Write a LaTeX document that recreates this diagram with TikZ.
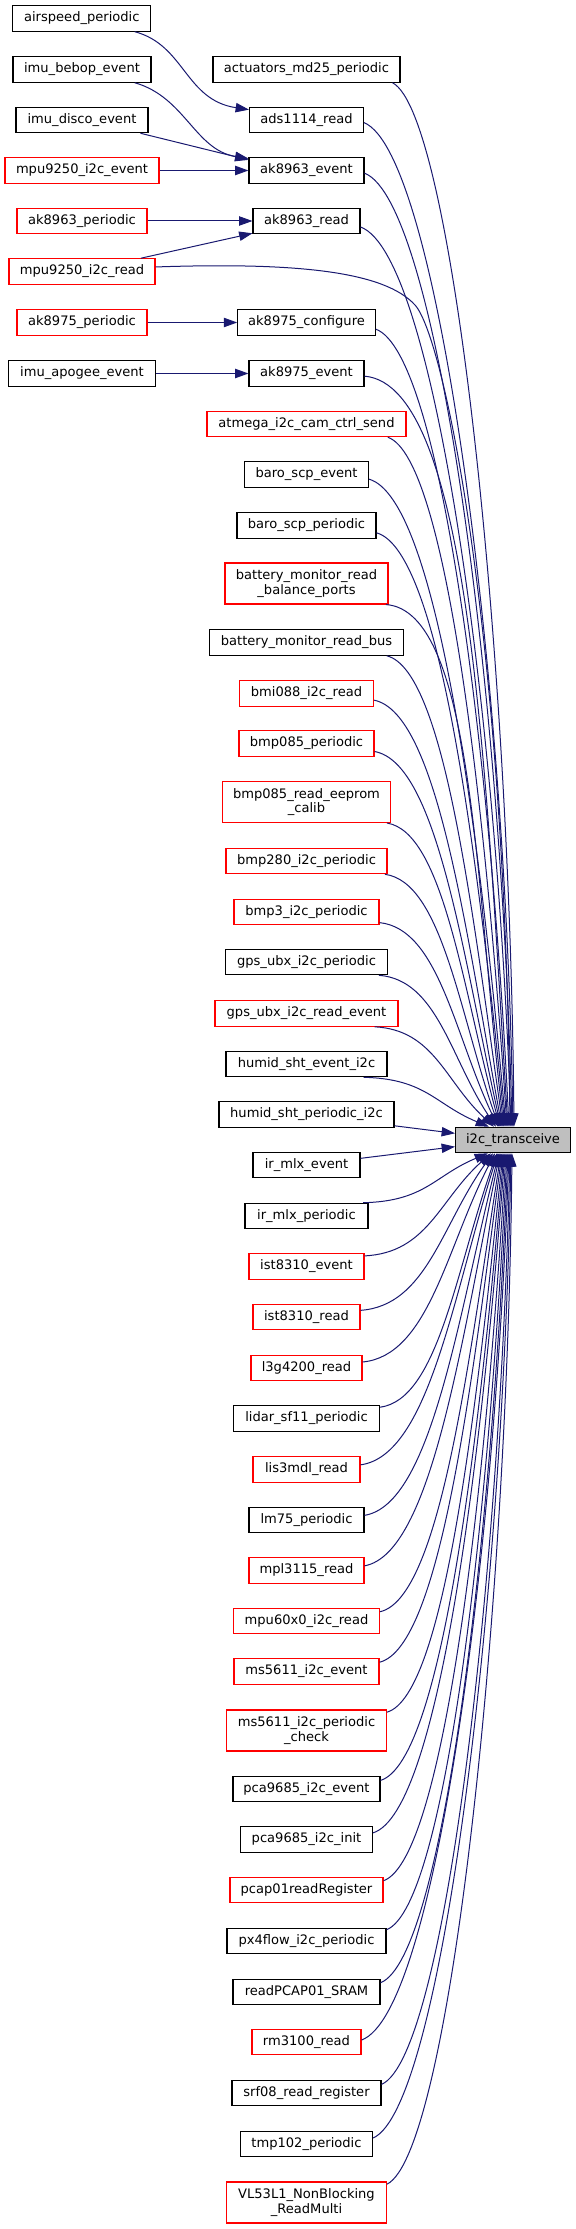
\documentclass[tikz,border=0pt]{standalone}
\usepackage{fontspec}
\setmainfont{DejaVu Sans}
\usetikzlibrary{calc,arrows.meta}
\definecolor{edgeblue}{HTML}{191970}
\definecolor{tgray}{HTML}{BFBFBF}
\tikzset{
 fn/.style={draw=black,line width=0.8pt,fill=white,inner sep=0pt,minimum height=19.125pt,font=\fontsize{9.8}{10.7}\selectfont,align=center,text=black},
 fnr/.style={fn,draw=red},
 tall/.style={minimum height=30.75pt},
 bw/.style={minimum width=#1*0.75pt},
 edge/.style={draw=edgeblue,line width=0.75pt,-{Triangle[length=10pt,width=7pt]}},
}
% edge into the target: C1 = S + (a*dx, b*dy); C2 = E - (e*dx, 0.45*dy), e shrinking with distance
\newcommand\tedgex[4]{\draw[edge] let \p1=(#3), \p2=(#4) in (\p1) .. controls ({\x1+#1*(\x2-\x1)},{\y1+#2*(\y2-\y1)}) and ({\x2-(0.45-0.4*abs(\y2-\y1)/750)*(\x2-\x1)},{\y2-0.45*(\y2-\y1)}) .. (\p2);}
\newcommand\tedge[2]{\tedgex{0.5}{0.03}{#1}{#2}}
\begin{document}
\begin{tikzpicture}[x=0.75pt,y=-0.75pt]
\useasboundingbox (0,0) rectangle (575,2229);
\fill[white] (0,0) rectangle (575,2229);
% left column
\node[fn,bw=138] (nAir) at (81.8,18.4) {airspeed\_periodic};
\node[fn,bw=138] (nBebop) at (82,69.5) {imu\_bebop\_event};
\node[fn,bw=132] (nDisco) at (82,120) {imu\_disco\_event};
\node[fnr,bw=154] (nMpuEv) at (82,170.5) {mpu9250\_i2c\_event};
\node[fnr,bw=130] (nAkSixP) at (82,221) {ak8963\_periodic};
\node[fnr,bw=146] (nMpuRd) at (82,271.5) {mpu9250\_i2c\_read};
\node[fnr,bw=130] (nAkSevP) at (82,322.5) {ak8975\_periodic};
\node[fn,bw=147] (nApogee) at (82,373.5) {imu\_apogee\_event};
% middle column
\node[fn,bw=187] (nMd) at (306.5,69.5) {actuators\_md25\_periodic};
\node[fn,bw=114] (nAds) at (306.5,120) {ads1114\_read};
\node[fn,bw=115] (nAkSixE) at (306.5,170.5) {ak8963\_event};
\node[fn,bw=107] (nAkSixR) at (306.5,221) {ak8963\_read};
\node[fn,bw=137.5] (nAkSevC) at (306.5,322.5) {ak8975\_configure};
\node[fn,bw=115] (nAkSevE) at (306.5,373.5) {ak8975\_event};
\node[fnr,bw=199] (nAtm) at (306.5,424) {atmega\_i2c\_cam\_ctrl\_send};
\node[fn,bw=124] (nBaroE) at (306.5,474.5) {baro\_scp\_event};
\node[fn,bw=139] (nBaroP) at (306.5,525.5) {baro\_scp\_periodic};
\node[fnr,bw=163,tall] (nBatBal) at (306.5,583.5) {battery\_monitor\_read\\\_balance\_ports};
\node[fn,bw=194] (nBatBus) at (306.5,642.5) {battery\_monitor\_read\_bus};
\node[fnr,bw=134] (nBmi) at (306.5,693.5) {bmi088\_i2c\_read};
\node[fnr,bw=135] (nBmpP) at (306.5,743.5) {bmp085\_periodic};
\node[fnr,bw=168,tall] (nBmpE) at (306.5,802) {bmp085\_read\_eeprom\\\_calib};
\node[fnr,bw=161] (nBmpTwo) at (306.5,861) {bmp280\_i2c\_periodic};
\node[fnr,bw=145] (nBmpThree) at (306.5,912) {bmp3\_i2c\_periodic};
\node[fn,bw=162.5] (nGpsP) at (306.5,962) {gps\_ubx\_i2c\_periodic};
\node[fnr,bw=183] (nGpsR) at (306.5,1013.5) {gps\_ubx\_i2c\_read\_event};
\node[fn,bw=161] (nHumE) at (306.5,1064) {humid\_sht\_event\_i2c};
\node[fn,bw=175] (nHumP) at (306.5,1114.5) {humid\_sht\_periodic\_i2c};
\node[fn,bw=107] (nIrE) at (306.5,1165) {ir\_mlx\_event};
\node[fn,bw=123] (nIrP) at (306.5,1216) {ir\_mlx\_periodic};
\node[fnr,bw=115] (nIstE) at (306.5,1266.5) {ist8310\_event};
\node[fnr,bw=107] (nIstR) at (306.5,1317) {ist8310\_read};
\node[fnr,bw=111] (nLtg) at (306.5,1368) {l3g4200\_read};
\node[fn,bw=146] (nLidar) at (306.5,1418.5) {lidar\_sf11\_periodic};
\node[fnr,bw=107] (nLis) at (306.5,1469.5) {lis3mdl\_read};
\node[fn,bw=115] (nLm) at (306.5,1520) {lm75\_periodic};
\node[fnr,bw=115] (nMpl) at (306.5,1570.5) {mpl3115\_read};
\node[fnr,bw=146] (nMpuSix) at (306.5,1621) {mpu60x0\_i2c\_read};
\node[fnr,bw=145] (nMsE) at (306.5,1671.5) {ms5611\_i2c\_event};
\node[fnr,bw=160,tall] (nMsP) at (306.5,1730.5) {ms5611\_i2c\_periodic\\\_check};
\node[fn,bw=147] (nPcaE) at (306.5,1789) {pca9685\_i2c\_event};
\node[fn,bw=132] (nPcaI) at (306.5,1839.5) {pca9685\_i2c\_init};
\node[fnr,bw=153] (nPcap) at (306.5,1890) {pcap01readRegister};
\node[fn,bw=159] (nPx) at (306.5,1941) {px4flow\_i2c\_periodic};
\node[fn,bw=147] (nRpcap) at (306.5,1992) {readPCAP01\_SRAM};
\node[fnr,bw=109] (nRm) at (306.5,2042) {rm3100\_read};
\node[fn,bw=149] (nSrf) at (306.5,2093) {srf08\_read\_register};
\node[fn,bw=132] (nTmp) at (306.5,2144) {tmp102\_periodic};
\node[fnr,bw=160,tall] (nVl) at (306.5,2202.5) {VL53L1\_NonBlocking\\\_ReadMulti};
% target
\node[fn,bw=115,fill=tgray] (nT) at (513,1140) {i2c\_transceive};
% left column edges
\draw[edge] ([xshift=-12.5pt]nAir.south east) .. controls (185,45) and (185,100) .. ([yshift=-2.2pt]nAds.north west);
\draw[edge] ([xshift=-12.5pt]nBebop.south east) .. controls (185,97) and (195,150) .. ([yshift=-1pt]nAkSixE.north west);
\draw[edge] ([xshift=-6pt]nDisco.south east) -- ([yshift=-2pt]nAkSixE.north west);
\draw[edge] (nMpuEv) -- (nAkSixE);
\draw[edge] (nAkSixP) -- (nAkSixR);
\draw[edge] ([xshift=-11pt]nMpuRd.north east) -- ([yshift=0.75pt]nAkSixR.south west);
\draw[edge] (nAkSevP) -- (nAkSevC);
\draw[edge] (nApogee) -- (nAkSevE);
% upper edges into i2c_transceive
\tedge{[xshift=-6pt]nMd.south east}{$(nT.north west)+(59,0)$}
\tedge{[yshift=-2pt]nAds.east}{$(nT.north west)+(58,0)$}
\tedge{[yshift=-2pt]nAkSixE.east}{$(nT.north west)+(57,0)$}
\tedge{[yshift=-4.5pt]nAkSixR.east}{$(nT.north west)+(56,0)$}
\draw[edge] ([yshift=3.4pt]nMpuRd.east) .. controls (300,262) and (385,272) .. (415,305) .. controls (445,338) and (505,640) .. ($(nT.north west)+(55,0)$);
\tedge{[yshift=-5pt]nAkSevC.east}{$(nT.north west)+(54,0)$}
\tedgex{0.75}{0.012}{[yshift=-2pt]nAkSevE.east}{$(nT.north west)+(53,0)$}
\tedge{[xshift=-14pt]nAtm.south east}{$(nT.north west)+(52,0)$}
\tedge{[yshift=-3.5pt]nBaroE.east}{$(nT.north west)+(51,0)$}
\tedge{[yshift=-5.5pt]nBaroP.east}{$(nT.north west)+(50,0)$}
\tedgex{0.75}{0.012}{[xshift=-2pt]nBatBal.south east}{$(nT.north west)+(49,0)$}
\tedge{[xshift=-13pt]nBatBus.south east}{$(nT.north west)+(48,0)$}
\tedge{[yshift=-5pt]nBmi.east}{$(nT.north west)+(47,0)$}
\tedge{[yshift=-6pt]nBmpP.east}{$(nT.north west)+(46,0)$}
\tedge{[xshift=-3pt]nBmpE.south east}{$(nT.north west)+(45,0)$}
\tedge{[xshift=-2pt]nBmpTwo.south east}{$(nT.north west)+(44,0)$}
\tedge{[yshift=2pt]nBmpThree.south east}{$(nT.north west)+(43,0)$}
\tedge{[xshift=-7pt]nGpsP.south east}{$(nT.north west)+(41,0)$}
\tedge{[xshift=-18pt]nGpsR.south east}{$(nT.north west)+(39,0)$}
\tedge{[xshift=-18pt]nHumE.south east}{$(nT.north west)+(34,0)$}
\draw[edge] ([yshift=1.5pt]nHumP.south east) -- ([yshift=5pt]nT.west);
\draw[edge] ([yshift=5pt]nIrE.east) -- ([yshift=-5pt]nT.west);
% lower edges into i2c_transceive
\tedge{[xshift=-4pt]nIrP.north east}{$(nT.south west)+(33,0)$}
\tedge{[yshift=-2pt]nIstE.north east}{$(nT.south west)+(36,0)$}
\tedge{[yshift=5pt]nIstR.east}{$(nT.south west)+(38,0)$}
\tedge{[yshift=4.5pt]nLtg.east}{$(nT.south west)+(40,0)$}
\tedge{[yshift=-1.5pt]nLidar.north east}{$(nT.south west)+(42,0)$}
\tedge{[yshift=3.5pt]nLis.east}{$(nT.south west)+(43,0)$}
\tedge{[yshift=3.5pt]nLm.east}{$(nT.south west)+(44,0)$}
\tedge{[yshift=3.5pt]nMpl.east}{$(nT.south west)+(45,0)$}
\tedge{[yshift=-3pt]nMpuSix.north east}{$(nT.south west)+(46,0)$}
\tedge{[yshift=-3pt]nMsE.north east}{$(nT.south west)+(47,0)$}
\tedge{[yshift=-2pt]nMsP.north east}{$(nT.south west)+(48,0)$}
\tedge{[yshift=-3.5pt]nPcaE.north east}{$(nT.south west)+(49,0)$}
\tedge{[yshift=5pt]nPcaI.east}{$(nT.south west)+(50,0)$}
\tedge{[yshift=-3pt]nPcap.north east}{$(nT.south west)+(51,0)$}
\tedge{[yshift=-1.5pt]nPx.north east}{$(nT.south west)+(52,0)$}
\tedge{[yshift=-3pt]nRpcap.north east}{$(nT.south west)+(53,0)$}
\tedge{[yshift=1.5pt]nRm.east}{$(nT.south west)+(54,0)$}
\tedge{[yshift=-3.5pt]nSrf.north east}{$(nT.south west)+(55,0)$}
\tedge{[yshift=4.5pt]nTmp.east}{$(nT.south west)+(56,0)$}
\tedge{[yshift=-2pt]nVl.north east}{$(nT.south west)+(57,0)$}
\end{tikzpicture}
\end{document}
